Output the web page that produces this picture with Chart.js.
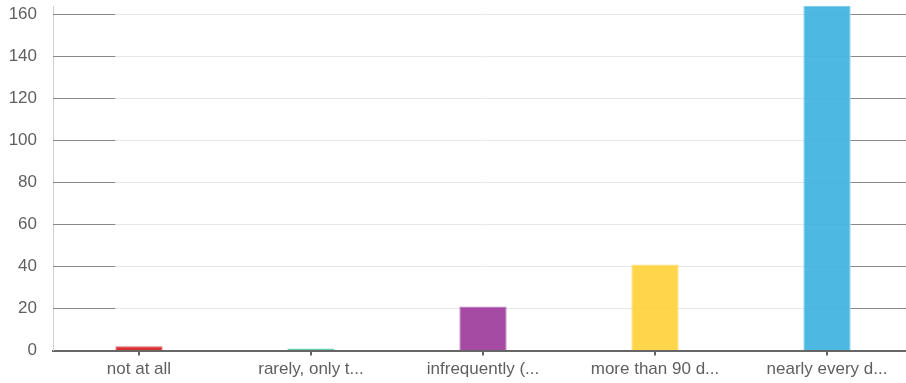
<!DOCTYPE html>
<html>
<head>
<meta charset="utf-8">
<script src="https://cdn.jsdelivr.net/npm/chart.js@4/dist/chart.umd.min.js"></script>
<style>
    html, body { margin: 0; padding: 0; background: #fff; overflow: hidden; }
    .wrap { width: 913px; height: 383px; position: relative; }
</style>
</head>
<body>
<div class="wrap"><canvas id="answersChart"></canvas></div>
<script>
// Data
const categories = ['not at all', 'rarely, only t...', 'infrequently (...', 'more than 90 d...', 'nearly every d...'];
const responses = [2, 1, 21, 41, 164];
const yTicks = [0, 20, 40, 60, 80, 100, 120, 140, 160];

const barFill = [
    'rgba(208, 10, 14, 0.85)',   // red
    'rgba(30, 186, 143, 0.85)',  // teal
    'rgba(150, 44, 148, 0.85)',  // purple
    'rgba(255, 207, 42, 0.85)',  // yellow
    'rgba(46, 173, 221, 0.85)'   // blue
];
const barEdge = [
    'rgba(208, 10, 14, 0.6)',
    'rgba(30, 186, 143, 0.6)',
    'rgba(150, 44, 148, 0.6)',
    'rgba(255, 207, 42, 0.6)',
    'rgba(46, 173, 221, 0.6)'
];

// Darker grid segments outside the bars, as in the original
const gridEnds = {
    id: 'gridEnds',
    beforeDatasetsDraw(chart) {
        const ctx = chart.ctx;
        const area = chart.chartArea;
        const bars = chart.getDatasetMeta(0).data;
        const first = bars[0];
        const last = bars[bars.length - 1];
        const yScale = chart.scales.y;
        ctx.save();
        ctx.strokeStyle = '#8a8a8a';
        ctx.lineWidth = 1;
        yTicks.forEach(v => {
            if (v === 0) return;
            const y = Math.round(yScale.getPixelForValue(v)) + 0.5;
            ctx.beginPath();
            ctx.moveTo(area.left, y);
            ctx.lineTo(first.x - first.width / 2, y);
            ctx.moveTo(last.x + last.width / 2, y);
            ctx.lineTo(906, y);
            ctx.stroke();
        });
        ctx.restore();
    }
};

const ctx = document.getElementById('answersChart').getContext('2d');
const answersChart = new Chart(ctx, {
    type: 'bar',
    data: {
        labels: categories,
        datasets: [{
            data: responses,
            backgroundColor: barFill,
            borderColor: barEdge,
            borderWidth: 1,
            categoryPercentage: 1,
            barPercentage: 0.275
        }]
    },
    options: {
        responsive: true,
        maintainAspectRatio: false,
        animation: false,
        layout: { padding: { top: 6, left: 0, right: 0, bottom: 0 } },
        plugins: {
            legend: { display: false },
            tooltip: { enabled: false }
        },
        scales: {
            x: {
                afterFit: scale => {
                    scale.height = 32.5;
                    scale.paddingLeft = 0;
                    scale.paddingRight = 0;
                },
                grid: {
                    offset: false,
                    drawOnChartArea: false,
                    tickLength: 5,
                    color: '#666',
                    lineWidth: 2
                },
                border: { color: '#666', width: 2 },
                ticks: {
                    color: '#5f5f5f',
                    padding: 4,
                    maxRotation: 0,
                    autoSkip: false,
                    font: { family: "'Liberation Sans', Arial, sans-serif", size: 17 }
                }
            },
            y: {
                min: 0,
                max: 164,
                afterFit: scale => {
                    scale.width = 53;
                    scale.paddingTop = 0;
                    scale.paddingBottom = 0;
                },
                afterBuildTicks: scale => {
                    scale.ticks = yTicks.map(v => ({ value: v }));
                },
                grid: {
                    drawTicks: false,
                    color: ctx => ctx.tick && ctx.tick.value === 0 ? 'rgba(0,0,0,0)' : '#e8e8e8',
                    lineWidth: 1
                },
                border: { color: '#cfcfcf', width: 1 },
                ticks: {
                    color: '#5f5f5f',
                    padding: 16,
                    includeBounds: false,
                    font: { family: "'Liberation Sans', Arial, sans-serif", size: 17 }
                }
            }
        }
    },
    plugins: [gridEnds]
});
</script>
</body>
</html>
